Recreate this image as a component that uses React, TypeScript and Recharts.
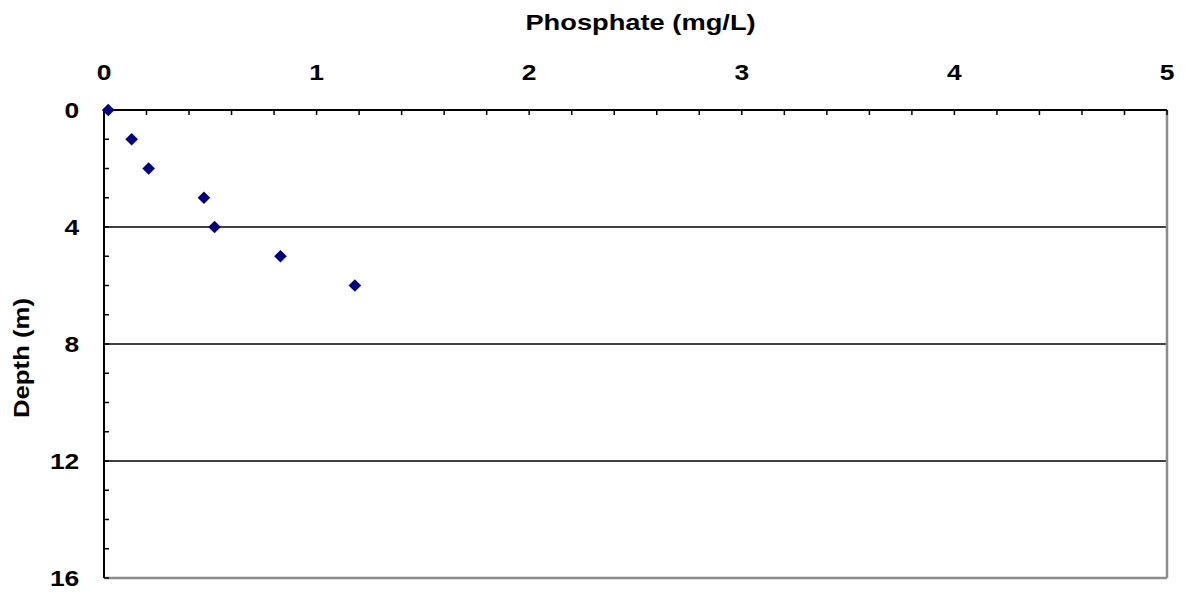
import React from 'react';
import { ScatterChart, Scatter, XAxis, YAxis, ReferenceLine } from 'recharts';

const phosphate = [0.02, 0.13, 0.21, 0.47, 0.52, 0.83, 1.18];
const depth = [0, 1, 2, 3, 4, 5, 6];
const xTicks = [0, 0.2, 0.4, 0.6, 0.8, 1, 1.2, 1.4, 1.6, 1.8, 2, 2.2, 2.4, 2.6, 2.8, 3, 3.2, 3.4, 3.6, 3.8, 4, 4.2, 4.4, 4.6, 4.8, 5];
const xLabels = [0, 1, 2, 3, 4, 5];
const yTicks = [0, 1, 2, 3, 4, 5, 6, 7, 8, 9, 10, 11, 12, 13, 14, 15, 16];
const yLabels = [0, 4, 8, 12, 16];
const gridDepths = [4, 8, 12];
const xMax = 5;
const yMax = 16;
const xTitle = 'Phosphate (mg/L)';
const yTitle = 'Depth (m)';

const data = phosphate.map((p, i) => ({ p, d: depth[i] }));

const FONT = '"Liberation Sans", Arial, sans-serif';

const XTick = (props: any) => {
  const { x, y, payload } = props;
  if (!xLabels.includes(payload.value)) return <g />;
  return (
    <text transform={`translate(${x},${y}) scale(1.2,1)`} textAnchor="middle" fontFamily={FONT} fontWeight="bold" fontSize={22} fill="#000">
      {payload.value}
    </text>
  );
};

const YTick = (props: any) => {
  const { x, y, payload } = props;
  if (!yLabels.includes(payload.value)) return <g />;
  return (
    <text transform={`translate(${x},${y}) scale(1.2,1)`} dy="0.36em" textAnchor="end" fontFamily={FONT} fontWeight="bold" fontSize={22} fill="#000">
      {payload.value}
    </text>
  );
};

const XTitle = (props: any) => {
  const vb = props.viewBox || { x: 0, y: 0, width: 0, height: 0 };
  return (
    <text transform={`translate(${vb.x + vb.width / 2 + 5},${vb.y + 21.5}) scale(1.24,1)`} textAnchor="middle" fontFamily={FONT} fontWeight="bold" fontSize={22} fill="#000">
      {xTitle}
    </text>
  );
};

const YTitle = (props: any) => {
  const vb = props.viewBox || { x: 0, y: 0, width: 0, height: 0 };
  return (
    <text transform={`translate(${vb.x + 20.5},${vb.y + vb.height / 2 + 14}) rotate(-90) scale(1.17,1)`} textAnchor="middle" fontFamily={FONT} fontWeight="bold" fontSize={22} fill="#000">
      {yTitle}
    </text>
  );
};

const Diamond = (props: any) => {
  const { cx, cy } = props;
  const r = 6.3;
  return <path d={`M${cx},${cy - r}L${cx + r},${cy}L${cx},${cy + r}L${cx - r},${cy}Z`} fill="#000080" />;
};

export default function App() {
  return (
    <ScatterChart width={1169} height={581} margin={{ top: 0, right: 10, bottom: 11, left: 0 }}>
      {gridDepths.map((g) => (
        <ReferenceLine key={g} y={g} xAxisId="top" yAxisId="left" stroke="#000" strokeWidth={1.3} />
      ))}
      <ReferenceLine y={yMax} xAxisId="top" yAxisId="left" stroke="#8c8c8c" strokeWidth={2.5} />
      <ReferenceLine x={xMax} xAxisId="top" yAxisId="left" stroke="#8c8c8c" strokeWidth={2.5} />
      <XAxis
        xAxisId="top"
        orientation="top"
        type="number"
        dataKey="p"
        domain={[0, xMax]}
        ticks={xTicks}
        interval={0}
        height={102}
        tickSize={-5}
        tickMargin={35.5}
        tick={<XTick />}
        tickLine={{ stroke: '#000', strokeWidth: 1.5 }}
        axisLine={{ stroke: '#000', strokeWidth: 2 }}
        label={{ content: <XTitle /> } as any}
      />
      <YAxis
        yAxisId="left"
        orientation="left"
        type="number"
        dataKey="d"
        domain={[0, yMax]}
        reversed
        ticks={yTicks}
        interval={0}
        width={96}
        tickSize={-5}
        tickMargin={29.7}
        tick={<YTick />}
        tickLine={{ stroke: '#000', strokeWidth: 1.5 }}
        axisLine={{ stroke: '#000', strokeWidth: 2 }}
        label={{ content: <YTitle /> } as any}
      />
      <Scatter data={data} xAxisId="top" yAxisId="left" shape={<Diamond />} isAnimationActive={false} />
    </ScatterChart>
  );
}
